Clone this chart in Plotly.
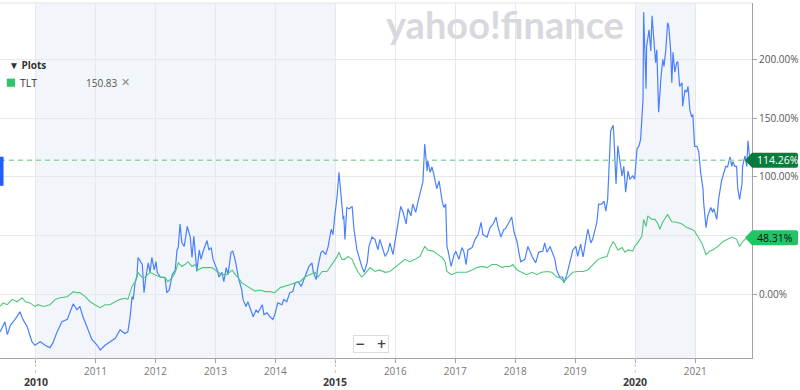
import plotly.graph_objects as go

# ---- data (decimal years, % change) ----
blue_years = [2009.41, 2009.49, 2009.53, 2009.58, 2009.66, 2009.74, 2009.79, 2009.86, 2009.94, 2009.99,
    2010.08, 2010.16, 2010.24, 2010.29, 2010.36, 2010.44, 2010.53, 2010.58, 2010.63, 2010.69,
    2010.74, 2010.79, 2010.86, 2010.94, 2011.03, 2011.08, 2011.16, 2011.24, 2011.33, 2011.41,
    2011.49, 2011.54, 2011.58, 2011.61, 2011.63, 2011.66, 2011.69, 2011.71, 2011.78, 2011.81,
    2011.84, 2011.88, 2011.91, 2011.94, 2011.98, 2012.01, 2012.03, 2012.08, 2012.13, 2012.16,
    2012.19, 2012.23, 2012.28, 2012.33, 2012.36, 2012.38, 2012.41, 2012.44, 2012.48, 2012.53,
    2012.58, 2012.61, 2012.64, 2012.69, 2012.73, 2012.76, 2012.79, 2012.86, 2012.89, 2012.93,
    2012.96, 2013.03, 2013.06, 2013.11, 2013.14, 2013.18, 2013.21, 2013.26, 2013.29, 2013.34,
    2013.38, 2013.44, 2013.46, 2013.51, 2013.54, 2013.58, 2013.63, 2013.68, 2013.71, 2013.78,
    2013.81, 2013.86, 2013.91, 2013.96, 2013.99, 2014.04, 2014.11, 2014.14, 2014.19, 2014.24,
    2014.29, 2014.33, 2014.38, 2014.43, 2014.46, 2014.51, 2014.56, 2014.61, 2014.63, 2014.68,
    2014.71, 2014.76, 2014.79, 2014.84, 2014.88, 2014.93, 2014.96, 2014.99, 2015.03, 2015.06,
    2015.09, 2015.13, 2015.14, 2015.16, 2015.19, 2015.23, 2015.28, 2015.31, 2015.36, 2015.39,
    2015.44, 2015.48, 2015.53, 2015.56, 2015.61, 2015.66, 2015.71, 2015.74, 2015.78, 2015.83,
    2015.88, 2015.91, 2015.96, 2016.01, 2016.04, 2016.09, 2016.13, 2016.18, 2016.21, 2016.26,
    2016.29, 2016.34, 2016.38, 2016.43, 2016.46, 2016.49, 2016.53, 2016.54, 2016.58, 2016.61,
    2016.64, 2016.69, 2016.73, 2016.78, 2016.81, 2016.84, 2016.86, 2016.88, 2016.93, 2016.98,
    2017.01, 2017.06, 2017.11, 2017.14, 2017.18, 2017.21, 2017.28, 2017.33, 2017.38, 2017.43,
    2017.46, 2017.53, 2017.58, 2017.63, 2017.68, 2017.71, 2017.76, 2017.81, 2017.83, 2017.88,
    2017.94, 2017.98, 2018.03, 2018.06, 2018.09, 2018.16, 2018.21, 2018.28, 2018.34, 2018.39,
    2018.46, 2018.49, 2018.53, 2018.58, 2018.63, 2018.66, 2018.69, 2018.74, 2018.79, 2018.81,
    2018.86, 2018.91, 2018.96, 2019.01, 2019.04, 2019.09, 2019.13, 2019.18, 2019.21, 2019.26,
    2019.29, 2019.36, 2019.39, 2019.44, 2019.48, 2019.51, 2019.54, 2019.56, 2019.59, 2019.63,
    2019.64, 2019.68, 2019.71, 2019.74, 2019.78, 2019.81, 2019.84, 2019.88, 2019.91, 2019.96,
    2019.99, 2020.03, 2020.06, 2020.09, 2020.13, 2020.14, 2020.18, 2020.19, 2020.23, 2020.26,
    2020.28, 2020.31, 2020.34, 2020.36, 2020.39, 2020.43, 2020.46, 2020.48, 2020.51, 2020.54,
    2020.56, 2020.59, 2020.61, 2020.63, 2020.66, 2020.69, 2020.71, 2020.74, 2020.78, 2020.79,
    2020.83, 2020.86, 2020.88, 2020.91, 2020.94, 2020.96, 2020.99, 2021.03, 2021.06, 2021.09,
    2021.13, 2021.14, 2021.18, 2021.21, 2021.26, 2021.29, 2021.31, 2021.36, 2021.39, 2021.44,
    2021.48, 2021.51, 2021.54, 2021.58, 2021.61, 2021.63, 2021.66, 2021.69, 2021.71, 2021.74,
    2021.78, 2021.79, 2021.83, 2021.86, 2021.88, 2021.91, 2021.93]
blue_pct = [-31.6, -23, -34, -26, -21, -14.5, -21, -27, -40, -43,
    -40, -43, -45, -41, -31.6, -23, -21, -15, -7.7, -12.8,
    -10, -18.5, -27, -38, -43, -47, -43, -40, -37, -30,
    -33, -31.6, -18, -1.7, -4, 10, 15, 31.6, 25.6, 1.7,
    15, 27, 19, 31.6, 21, 28, 19, 15, 15, 14.5,
    1.7, 4, 17, 21, 38, 40, 60, 44, 41, 58,
    49, 31.6, 49.6, 19.7, 38, 30, 36, 46, 38, 40,
    30, 21, 15, 19, 11, 23, 17, 36, 37, 27,
    15, 4, -4, -10, -6, -11, -18.8, -12.8, -15.4, -8.5,
    -17, -15.4, -18.8, -21, -17, -7, -8.5, -4, -6, 1.7,
    2.6, 10, 11, 7, 11, 17, 24, 27, 19.7, 12.8,
    24, 36, 37, 34, 41, 55.6, 51, 67, 84, 104,
    84, 64, 67, 47, 74, 73, 75, 55.6, 38, 32.5,
    24, 19, 27, 41, 49, 47, 38, 47, 40, 32.5,
    37, 44, 34, 51, 61.5, 75, 70, 60, 73, 67,
    77, 70, 79.5, 91.5, 96, 128, 105, 114, 104, 108.5,
    102.6, 90, 96.6, 79.5, 74, 77, 41, 37, 24, 34,
    37, 30, 40, 37, 25.6, 38, 40, 47, 51, 61.5,
    51, 49, 57, 60, 66, 58, 49, 55.6, 55.6, 60,
    66, 53, 45, 36, 28, 30, 41, 32.5, 27, 36,
    37, 44, 36, 41, 34, 30, 21, 15, 15, 10,
    17, 27, 38, 41, 32.5, 43, 32, 47, 55.6, 44,
    47, 61.5, 77, 77, 79.5, 71, 81, 104, 139, 144,
    139, 94, 126.5, 115, 101, 109, 87, 105, 98, 101,
    98, 124, 126, 132, 166, 240, 175, 211, 225, 207,
    237, 217, 197, 208, 155, 185, 200, 194, 208, 231,
    228, 208, 180, 206, 189, 197, 198, 177, 180, 160,
    174, 172, 177, 157, 151, 153, 126, 126, 121, 104,
    90, 79, 57, 67, 74, 70, 73, 64, 81, 97,
    104, 109, 108.5, 117, 109, 113, 109, 109, 90, 81,
    94, 109, 118, 109, 131, 115, 114.26]

tlt_years = [2009.41, 2009.46, 2009.53, 2009.61, 2009.69, 2009.78, 2009.83, 2009.91, 2009.99, 2010.04,
    2010.13, 2010.24, 2010.33, 2010.41, 2010.53, 2010.63, 2010.69, 2010.74, 2010.83, 2010.91,
    2010.99, 2011.08, 2011.16, 2011.24, 2011.33, 2011.41, 2011.49, 2011.54, 2011.61, 2011.66,
    2011.71, 2011.78, 2011.83, 2011.91, 2011.99, 2012.08, 2012.16, 2012.21, 2012.28, 2012.33,
    2012.38, 2012.44, 2012.49, 2012.54, 2012.61, 2012.66, 2012.71, 2012.78, 2012.86, 2012.94,
    2013.03, 2013.11, 2013.19, 2013.28, 2013.33, 2013.38, 2013.44, 2013.53, 2013.61, 2013.66,
    2013.74, 2013.83, 2013.91, 2013.99, 2014.08, 2014.16, 2014.24, 2014.33, 2014.41, 2014.49,
    2014.58, 2014.66, 2014.71, 2014.78, 2014.86, 2014.91, 2014.96, 2015.03, 2015.06, 2015.11,
    2015.16, 2015.21, 2015.28, 2015.33, 2015.38, 2015.44, 2015.48, 2015.58, 2015.66, 2015.74,
    2015.83, 2015.91, 2015.99, 2016.08, 2016.16, 2016.24, 2016.33, 2016.41, 2016.46, 2016.49,
    2016.54, 2016.63, 2016.71, 2016.78, 2016.83, 2016.86, 2016.94, 2017.03, 2017.11, 2017.19,
    2017.28, 2017.36, 2017.44, 2017.53, 2017.61, 2017.69, 2017.78, 2017.83, 2017.91, 2017.96,
    2018.03, 2018.11, 2018.19, 2018.28, 2018.36, 2018.44, 2018.53, 2018.61, 2018.69, 2018.74,
    2018.81, 2018.88, 2018.96, 2019.04, 2019.13, 2019.21, 2019.29, 2019.38, 2019.46, 2019.53,
    2019.58, 2019.63, 2019.66, 2019.71, 2019.78, 2019.83, 2019.88, 2019.96, 2019.99, 2020.04,
    2020.11, 2020.14, 2020.18, 2020.21, 2020.28, 2020.33, 2020.38, 2020.41, 2020.46, 2020.54,
    2020.61, 2020.69, 2020.78, 2020.86, 2020.94, 2020.99, 2021.04, 2021.11, 2021.18, 2021.24,
    2021.29, 2021.38, 2021.46, 2021.54, 2021.61, 2021.69, 2021.74, 2021.79, 2021.88, 2021.93]
tlt_pct = [-10, -7, -8.5, -4, -6, -2.6, -6, -7, -10, -8.5,
    -10, -8.5, -4, -2.6, -1.7, 2.6, 1.7, 1.7, -1.7, -6,
    -8.5, -11, -8.5, -8.5, -6, -4, -3, -4, 7, 11,
    19, 14.5, 15, 19, 17, 15, 14.5, 11, 14.5, 19,
    27, 24, 25.6, 28, 24, 25.6, 21, 23, 23, 23,
    19.7, 17, 17, 21, 17, 14.5, 10, 7, 4, 3,
    4, 2.6, 2.6, 1.7, 6, 7, 8.5, 10, 11, 15,
    17, 19, 15, 19.7, 19.7, 23, 27, 32.5, 36, 30,
    30, 32.5, 30, 24, 19, 15, 17, 23, 19.7, 21,
    19, 19.7, 23, 27, 30, 28, 30, 32.5, 37, 41,
    38, 37, 34, 31.6, 28, 19.7, 17, 19, 19, 19,
    21, 23, 24, 23, 25.6, 25.6, 23, 24, 24, 25.6,
    21, 19, 17, 19, 17, 19, 19.7, 19, 15, 14.5,
    11, 15, 19, 19.7, 19.7, 21, 25.6, 30, 31.6, 32.5,
    40, 45, 43, 38, 40, 36, 38, 37, 41, 44,
    49.6, 64, 58, 67, 64, 64, 60, 55.6, 62, 68,
    62, 61.5, 60, 57, 55.6, 54, 49.6, 44, 34, 37,
    38, 41, 45, 47, 49, 47, 41, 45, 49, 48.31]

year_ticks = list(range(2010, 2022))
major_years = [2010, 2015, 2020]
y_ticks = [0, 50, 100, 150, 200]
y_ticklabels = ["0.00%", "", "100.00%", "150.00%", "200.00%"]
shaded_periods = [(2010, 2015), (2020, 2021)]
tlt_price = "150.83"

BLUE = "#4a80ff"
GREEN = "#4cc77c"
GRID = "#e6e8ec"

fig = go.Figure()

fig.add_trace(go.Scatter(x=blue_years, y=blue_pct, mode="lines",
                         line=dict(color=BLUE, width=1.2), hoverinfo="skip"))
fig.add_trace(go.Scatter(x=tlt_years, y=tlt_pct, mode="lines",
                         line=dict(color=GREEN, width=1.1), hoverinfo="skip"))
fig.add_trace(go.Scatter(x=[blue_years[-1]], y=[blue_pct[-1]], mode="markers",
                         marker=dict(color="#3fb8ff", size=5), cliponaxis=False, hoverinfo="skip"))

shapes = []
for a, b in shaded_periods:
    shapes.append(dict(type="rect", xref="x", yref="paper", x0=a, x1=b, y0=0, y1=1,
                       fillcolor="#f2f5f9", line=dict(width=0), layer="below"))
# top border
shapes.append(dict(type="line", xref="paper", yref="paper", x0=0, x1=1, y0=1, y1=1,
                   line=dict(color="#e3e3e3", width=1)))
# dashed last-price line
shapes.append(dict(type="line", xref="paper", yref="y", x0=0, x1=1,
                   y0=blue_pct[-1], y1=blue_pct[-1],
                   line=dict(color="#93d3aa", width=1.5, dash="5px,4px")))
# dotted tick extensions for major years
for yr in major_years:
    shapes.append(dict(type="line", xref="x", yref="paper", x0=yr, x1=yr, y0=0, y1=-0.045,
                       line=dict(color="#c8c8c8", width=1, dash="dot")))
# left blue marker
shapes.append(dict(type="rect", xref="paper", yref="paper", x0=0, x1=0.0047, y0=0.485, y1=0.567,
                   fillcolor="#1f5fff", line=dict(width=0)))
# legend swatch
shapes.append(dict(type="rect", xref="paper", yref="paper", x0=0.009, x1=0.02, y0=0.764, y1=0.787,
                   fillcolor="#2fc46b", line=dict(width=0)))
# value tags
for val, col in [(blue_pct[-1], "#0d7a3d"), (tlt_pct[-1], "#22c466")]:
    shapes.append(dict(type="path", xref="paper", yref="y", xsizemode="pixel", ysizemode="pixel",
                       xanchor=1, yanchor=val,
                       path="M -7 0 L 0 -7.5 L 44 -7.5 Q 46 -7.5 46 -5.5 L 46 5.5 Q 46 7.5 44 7.5 L 0 7.5 Z",
                       fillcolor=col, line=dict(width=0), layer="above"))

annotations = []
annotations.append(dict(xref="paper", yref="y", x=1, y=blue_pct[-1], xanchor="left", yanchor="middle",
                        xshift=3, text="%.2f%%" % blue_pct[-1], showarrow=False,
                        font=dict(color="white", size=10.5, family="Open Sans")))
annotations.append(dict(xref="paper", yref="y", x=1, y=tlt_pct[-1], xanchor="left", yanchor="middle",
                        xshift=3, text="%.2f%%" % tlt_pct[-1], showarrow=False,
                        font=dict(color="#111111", size=10.5, family="Open Sans")))
for yr in major_years:
    annotations.append(dict(xref="x", yref="paper", x=yr, y=0, xanchor="center", yanchor="middle",
                            yshift=-24, text="<b>%d</b>" % yr, showarrow=False,
                            font=dict(color="#3c3c3c", size=10.5, family="Open Sans")))
# watermark
annotations.append(dict(xref="paper", yref="paper", x=0.672, y=0.94, xanchor="center", yanchor="middle",
                        text="<b>yahoo!finance</b>", showarrow=False,
                        font=dict(color="#d7d9de", size=38, family="Lato")))
# plots legend
annotations.append(dict(xref="paper", yref="paper", x=0.009, y=0.825, xanchor="left", yanchor="middle",
                        text="<b>▼ Plots</b>", showarrow=False,
                        font=dict(color="#333333", size=10, family="Open Sans")))
annotations.append(dict(xref="paper", yref="paper", x=0.024, y=0.776, xanchor="left", yanchor="middle",
                        text="TLT", showarrow=False,
                        font=dict(color="#333333", size=10.5, family="Open Sans")))
annotations.append(dict(xref="paper", yref="paper", x=0.112, y=0.776, xanchor="left", yanchor="middle",
                        text=tlt_price, showarrow=False,
                        font=dict(color="#555555", size=10, family="Open Sans")))
annotations.append(dict(xref="paper", yref="paper", x=0.167, y=0.776, xanchor="center", yanchor="middle",
                        text="✕", showarrow=False,
                        font=dict(color="#888888", size=11, family="DejaVu Sans")))
# zoom buttons
annotations.append(dict(xref="paper", yref="paper", x=0.494, y=0.04, xanchor="center", yanchor="middle",
                        text="<b>−</b>   <b>+</b>", showarrow=False, bgcolor="white",
                        bordercolor="#dddddd", borderwidth=1, borderpad=1,
                        font=dict(color="#444444", size=12, family="DejaVu Sans")))

fig.update_layout(
    width=800, height=390,
    margin=dict(l=0, r=48, t=3, b=32),
    paper_bgcolor="white", plot_bgcolor="white",
    showlegend=False, hovermode=False,
    font=dict(family="Open Sans", size=10, color="#555555"),
    shapes=shapes, annotations=annotations,
    xaxis=dict(range=[2009.408, 2021.947], tickvals=year_ticks,
               ticktext=["" if y in major_years else str(y) for y in year_ticks],
               showgrid=True, gridcolor=GRID, gridwidth=1, zeroline=False,
               showline=True, linecolor="#a3a3a3", linewidth=1,
               ticks="outside", ticklen=4, tickcolor="#a3a3a3",
               tickfont=dict(color="#777777", size=10, family="Open Sans")),
    yaxis=dict(range=[-53.8, 247.8], side="right", tickvals=y_ticks, ticktext=y_ticklabels,
               showgrid=True, gridcolor=GRID, gridwidth=1, zeroline=False,
               showline=True, linecolor="#a3a3a3", linewidth=1,
               ticks="outside", ticklen=4, tickcolor="#a3a3a3",
               tickfont=dict(color="#555555", size=10, family="Open Sans")),
)

fig.write_html("out.html", config={"displayModeBar": False},
               post_script="document.body.style.margin='0';")
